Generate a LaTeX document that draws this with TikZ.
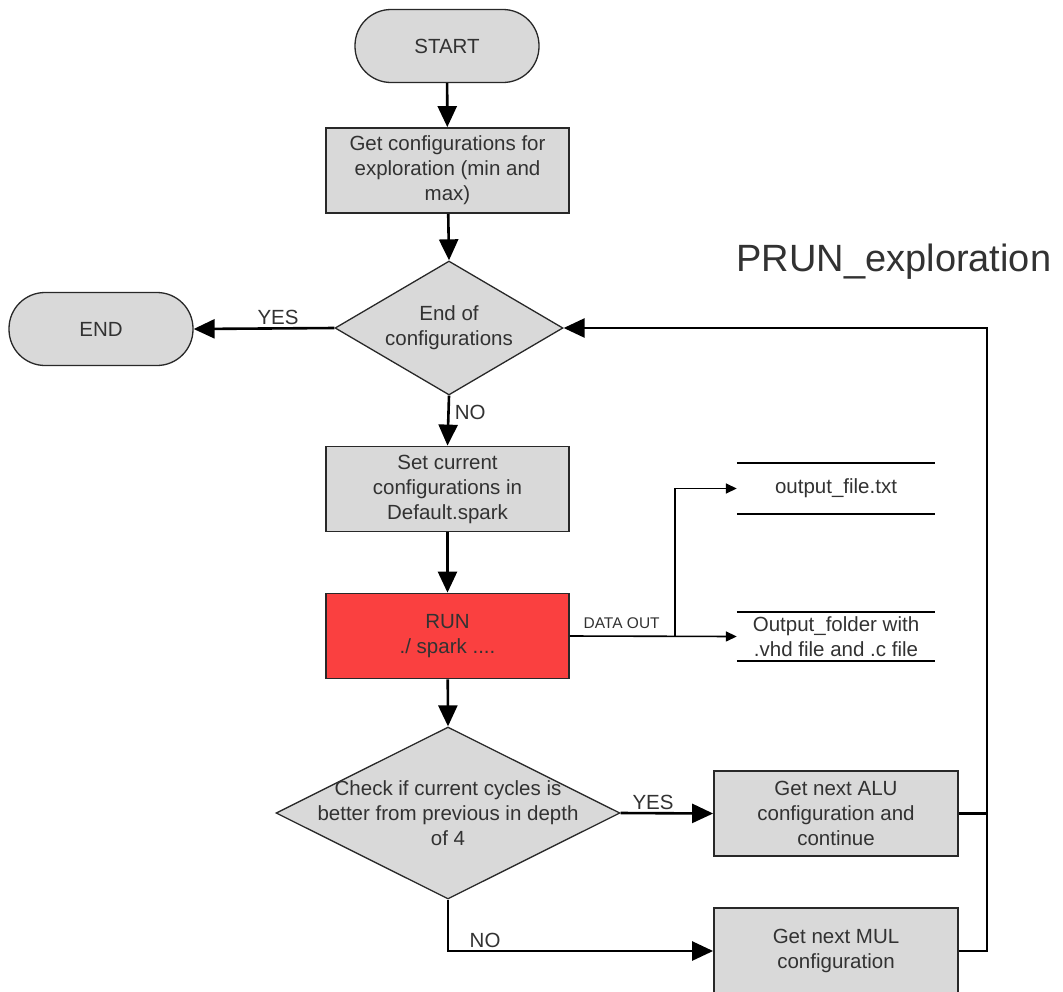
\documentclass[tikz,border=0pt]{standalone}
\usepackage{fontspec}
\setmainfont{Liberation Sans}
\usetikzlibrary{shapes.geometric,arrows.meta}
\definecolor{boxfill}{RGB}{217,217,217}
\definecolor{runred}{RGB}{250,64,64}
\definecolor{txt}{RGB}{50,50,50}
\definecolor{edge}{RGB}{40,40,40}
\begin{document}
\begin{tikzpicture}[x=1pt,y=-1pt,
  every node/.style={text=txt, font=\fontsize{20.5}{25}\selectfont},
  term/.style={draw=edge, fill=boxfill, rounded corners=36pt, minimum width=184pt, minimum height=73pt, line width=1.3pt},
  proc/.style={draw=edge, fill=boxfill, minimum width=243pt, minimum height=85pt, line width=1.8pt, align=center, inner sep=2pt},
  dec/.style={draw=edge, fill=boxfill, diamond, inner sep=0pt, line width=1.3pt},
  dtext/.style={align=center, inner sep=0pt},
  flow/.style={draw=black, line width=2.6pt, -{Triangle[length=21pt,width=19pt]}},
  plain/.style={draw=black, line width=2.6pt},
  data/.style={draw=black, line width=1.6pt, -{Triangle[length=11pt,width=10pt]}},
  filebox/.style={minimum width=198pt, inner sep=0pt, align=center},
  fileline/.style={draw=black, line width=1.8pt},
  lbl/.style={inner sep=2pt}
]
\useasboundingbox (0,0) rectangle (1063,991);

% nodes
\node[term] (start) at (447,46) {START};
\node[proc] (getcfg) at (447.5,170.5) {Get configurations for\\exploration (min and\\max)};
\node[dec, minimum width=228pt, minimum height=134pt] (d1) at (449,328) {};
\node[dtext] (d1t) at (d1.center) {End of\\configurations};
\node[term] (end) at (101,329) {END};
\node[proc] (set) at (447.5,489) {Set current\\configurations in\\Default.spark};
\node[proc, fill=runred] (run) at (447.5,636) {RUN\\./ spark ....};
\node[dec, minimum width=344pt, minimum height=172pt] (d2) at (448,813) {};
\node[dtext] (d2t) at (d2.center) {Check if current cycles is\\better from previous in depth\\of 4};
\node[proc, minimum width=244pt] (alu) at (836,813.5) {Get next ALU\\configuration and\\continue};
\node[proc, minimum width=244pt, minimum height=86pt] (mul) at (836,951) {Get next MUL\\configuration};

\node[filebox, minimum height=51pt] (of1) at (836,488.5) {output\_file.txt};
\node[filebox, minimum height=49pt] (of2) at (836,636.5) {Output\_folder with\\.vhd file and .c file};
\draw[fileline] (of1.north west) -- (of1.north east);
\draw[fileline] (of1.south west) -- (of1.south east);
\draw[fileline] (of2.north west) -- (of2.north east);
\draw[fileline] (of2.south west) -- (of2.south east);

\node[anchor=west, font=\fontsize{38}{44}\selectfont] (title) at (733,262) {PRUN\_exploration};

% connectors
\draw[flow] (start) -- (getcfg);
\draw[flow] (getcfg) -- (d1.north);
\draw[flow] (d1.west) -- (end.east) node[lbl, pos=0.4, above] {YES};
\draw[flow] (d1.south) -- (set.north) node[pos=0.33, right, inner sep=5pt] {NO};
\draw[flow] (set) -- (run);
\draw[flow] (run) -- (d2.north);

\coordinate (br) at (675,636);
\draw[data] (run.east) -- (of2.west) node[pos=0.31, above, inner sep=7pt, font=\fontsize{15.5}{18}\selectfont] {DATA OUT};
\draw[data] (br) |- (of1.west);

\draw[flow] (d2.east) -- (alu.west) node[lbl, pos=0.35, above] {YES};
\draw[flow] (d2.south) |- (mul.west) node[lbl, pos=0.57, above] {NO};

\coordinate (loop) at (987,328);
\draw[plain] (alu.east) -- (alu.east -| loop);
\draw[flow] (mul.east) -| (loop) -- (d1.east);
\end{tikzpicture}
\end{document}
